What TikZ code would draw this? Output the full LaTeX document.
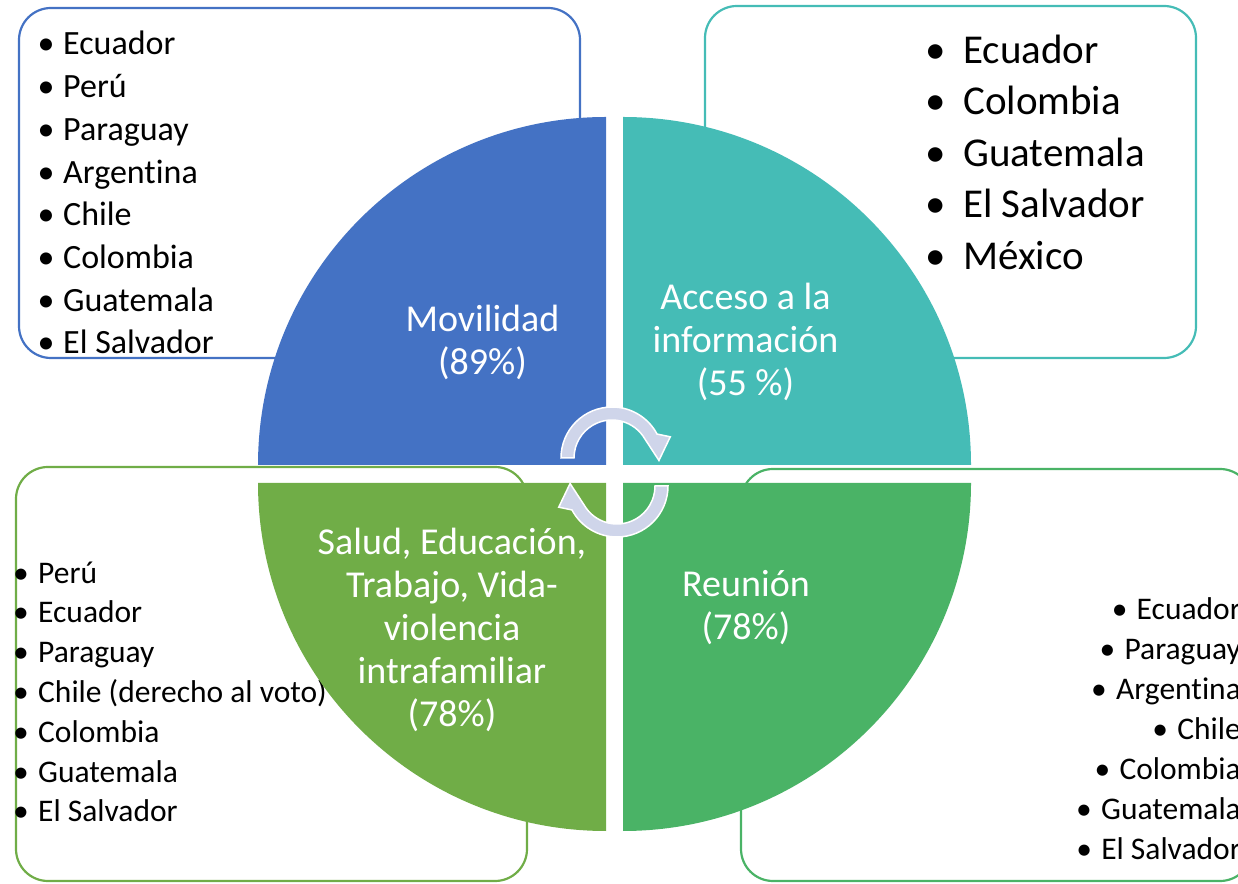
\documentclass[tikz,border=0pt]{standalone}
\usepackage{fontspec}
\setmainfont{Carlito}[Ligatures=NoCommon]
\usetikzlibrary{calc}
\definecolor{cblue}{RGB}{68,114,196}
\definecolor{cteal}{RGB}{69,188,182}
\definecolor{cgreenA}{RGB}{112,173,71}
\definecolor{cgreenB}{RGB}{74,179,102}
\definecolor{clav}{RGB}{207,213,234}
\tikzset{
  listbox/.style={line width=2.2pt, rounded corners=32pt, fill=white},
  qlabel/.style={text=white, align=center, anchor=base, inner sep=0pt, font=\fontsize{38}{42.8}\selectfont},
  bl/.style={inner sep=0pt, anchor=base west, align=left},
  cyc/.style={fill=clav, draw=white, line width=1.5pt, line join=miter}
}
\newcommand{\bu}[1]{\makebox[#1][l]{\textbullet}}
\begin{document}
\begin{tikzpicture}[x=1pt,y=1pt]
\useasboundingbox (0,0) rectangle (1238,883);
\clip (0,0) rectangle (1238,883);
% list boxes
\draw[listbox, draw=cblue] (19,875) rectangle (580,525);
\draw[listbox, draw=cteal] (705,877) rectangle (1196,525);
\draw[listbox, draw=cgreenA] (16,416) rectangle (527,2);
\draw[listbox, draw=cgreenB] (741,414) rectangle (1252,2);
% lists (anchor = baseline of last line)
\node[bl, font=\fontsize{34}{42.7}\selectfont] (tl) at (37.5,529.1)
 {\bu{25.5pt}Ecuador\\\bu{25.5pt}Perú\\\bu{25.5pt}Paraguay\\\bu{25.5pt}Argentina\\\bu{25.5pt}Chile\\\bu{25.5pt}Colombia\\\bu{25.5pt}Guatemala\\\bu{25.5pt}El Salvador};
\node[bl, font=\fontsize{41}{51.5}\selectfont] (tr) at (925,613.7)
 {\bu{38pt}Ecuador\\\bu{38pt}Colombia\\\bu{38pt}Guatemala\\\bu{38pt}El Salvador\\\bu{38pt}México};
\node[bl, font=\fontsize{31.5}{39.8}\selectfont] (bll) at (13,61.2)
 {\bu{25pt}Perú\\\bu{25pt}Ecuador\\\bu{25pt}Paraguay\\\bu{25pt}Chile (derecho al voto)\\\bu{25pt}Colombia\\\bu{25pt}Guatemala\\\bu{25pt}El Salvador};
\node[inner sep=0pt, anchor=base east, align=right, font=\fontsize{31.5}{40}\selectfont] (brl) at (1241,24)
 {\bu{25pt}Ecuador\\\bu{25pt}Paraguay\\\bu{25pt}Argentina\\\bu{25pt}Chile\\\bu{25pt}Colombia\\\bu{25pt}Guatemala\\\bu{25pt}El Salvador};
% quadrants
\fill[cblue] (606,418) -- ++(90:348) arc[start angle=90,end angle=180,radius=348] -- cycle;
\fill[cteal] (623,418) -- ++(0:348) arc[start angle=0,end angle=90,radius=348] -- cycle;
\fill[cgreenA] (606,400) -- ++(180:348) arc[start angle=180,end angle=270,radius=348] -- cycle;
\fill[cgreenB] (623,400) -- ++(270:348) arc[start angle=270,end angle=360,radius=348] -- cycle;
% labels (anchor = baseline of last line)
\node[qlabel] (mov) at (482.5,508.2) {Movilidad\\(89\%)};
\node[qlabel] (acc) at (745.5,487.4) {Acceso a la\\información\\(55 \%)};
\node[qlabel] (sal) at (452,156.8) {Salud, Educación,\\Trabajo, Vida-\\violencia\\intrafamiliar\\(78\%)};
\node[qlabel] (reu) at (746,243.2) {Reunión\\(78\%)};
% cycle arrows
\coordinate (c1) at (612,425);
\coordinate (c2) at (617,397);
\draw[cyc] ($(c1)+(180:51)$) arc[start angle=180,end angle=28,radius=51]
  -- ($(c1)+(20:62)$) -- ($(c1)+(-3:47)$) -- ($(c1)+(30:38)$)
  arc[start angle=30,end angle=180,radius=38] -- cycle;
\draw[cyc] ($(c2)+(0:51)$) arc[start angle=0,end angle=-152,radius=51]
  -- ($(c2)+(200:62)$) -- ($(c2)+(177:47)$) -- ($(c2)+(210:38)$)
  arc[start angle=210,end angle=360,radius=38] -- cycle;
\end{tikzpicture}
\end{document}
